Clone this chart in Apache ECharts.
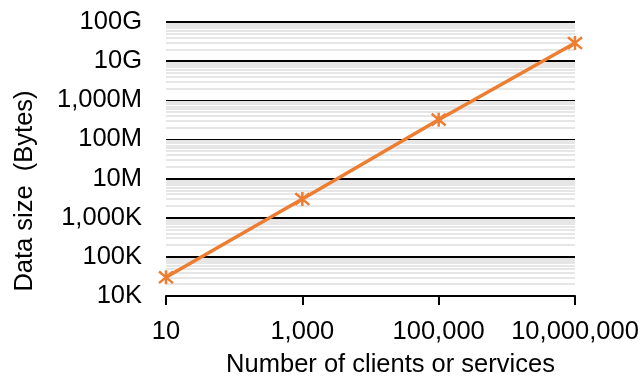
<!DOCTYPE html>
<html>
<head>
<meta charset="utf-8">
<script src="https://cdn.jsdelivr.net/npm/echarts@6/dist/echarts.min.js"></script>
<style>
  html, body { margin: 0; padding: 0; background: #fff; }
  #chart { width: 640px; height: 378px; }
</style>
</head>
<body>
<div id="chart"></div>
<script>
// Number of clients or services (x) vs. data size in bytes (y)
const clients = [10, 1000, 100000, 10000000];
const dataSize = [3.0e4, 3.0e6, 3.2e8, 2.9e10];

// Y tick labels, one per decade from 1e4 to 1e11
const yTickValues = [1e4, 1e5, 1e6, 1e7, 1e8, 1e9, 1e10, 1e11];
const yTickLabels = ['10K', '100K', '1,000K', '10M', '100M', '1,000M', '10G', '100G'];

// X tick labels
const xTickValues = [10, 1000, 100000, 10000000];
const xTickLabels = ['10', '1,000', '100,000', '10,000,000'];

// Minor log gridlines (2..9 within every decade)
const minorLines = [];
for (let d = 4; d < 11; d++) {
  for (let k = 2; k <= 9; k++) minorLines.push({ yAxis: k * Math.pow(10, d) });
}

function labelFor(values, labels, v) {
  for (let i = 0; i < values.length; i++) {
    if (Math.abs(Math.log10(v) - Math.log10(values[i])) < 1e-6) return labels[i];
  }
  return '';
}

const FONT = 'Liberation Sans, Arial, sans-serif';
const FS = 25.5;
const chart = echarts.init(document.getElementById('chart'), null, { renderer: 'canvas' });

chart.setOption({
  animation: false,
  grid: { left: 166, right: 65, top: 22, bottom: 82, containLabel: false, outerBoundsMode: 'none' },
  xAxis: {
    type: 'log',
    logBase: 10,
    min: 10,
    max: 10000000,
    interval: 2,
    name: 'Number of clients or services',
    nameLocation: 'middle',
    nameGap: 56,
    nameTextStyle: { color: '#000', fontSize: FS, fontFamily: FONT, padding: [0, 0, 0, 40] },
    axisLine: { show: true, lineStyle: { color: '#000', width: 2 } },
    axisTick: { show: true, inside: false, length: 9, lineStyle: { color: '#000', width: 2 } },
    axisLabel: {
      color: '#000', fontSize: FS, fontFamily: FONT, margin: 23,
      formatter: v => labelFor(xTickValues, xTickLabels, v)
    },
    splitLine: { show: false },
    minorTick: { show: false },
    minorSplitLine: { show: false }
  },
  yAxis: {
    type: 'log',
    logBase: 10,
    min: 1e4,
    max: 1e11,
    name: 'Data size  (Bytes)',
    nameLocation: 'middle',
    nameGap: 128,
    nameTextStyle: { color: '#000', fontSize: FS, fontFamily: FONT, padding: [0, 64, 0, 0] },
    axisLine: { show: false },
    axisTick: { show: false },
    axisLabel: {
      color: '#000', fontSize: FS, fontFamily: FONT, margin: 24,
      formatter: v => labelFor(yTickValues, yTickLabels, v)
    },
    splitLine: { show: true, lineStyle: { color: '#000', width: 2 } }
  },
  series: [{
    type: 'line',
    data: clients.map((c, i) => [c, dataSize[i]]),
    symbol: 'path://M0 0L10 10M10 0L0 10M5 -1L5 11',
    symbolSize: 14,
    showAllSymbol: true,
    z: 5,
    lineStyle: { color: '#ED7D31', width: 3.5 },
    itemStyle: { color: 'rgba(0,0,0,0)', borderColor: '#ED7D31', borderWidth: 2.5 },
    markLine: {
      silent: true,
      symbol: 'none',
      label: { show: false },
      z: 1,
      lineStyle: { color: '#e6e6e6', width: 2, type: 'solid' },
      emphasis: { disabled: true },
      data: minorLines
    }
  }]
});
</script>
</body>
</html>
